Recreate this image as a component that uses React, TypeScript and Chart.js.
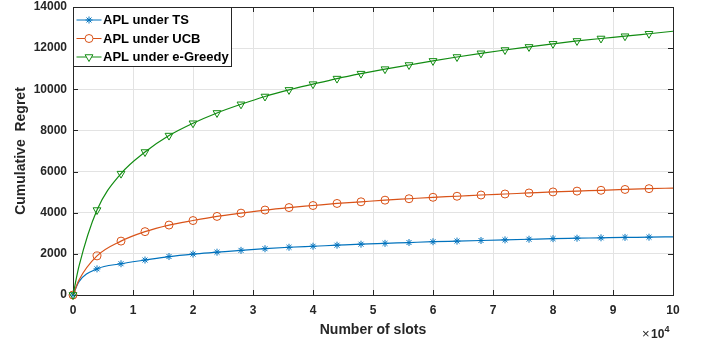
import React, { useEffect, useRef } from "react";
import { Chart, registerables } from "chart.js";

Chart.register(...registerables);

// x values in units of 10^4 slots
const xValues = [0, 0.1, 0.4, 0.8, 1.2, 1.6, 2.0, 2.4, 2.8, 3.2, 3.6, 4.0, 4.4, 4.8, 5.2, 5.6, 6.0, 6.4, 6.8, 7.2, 7.6, 8.0, 8.4, 8.8, 9.2, 9.6, 10];
const tsRegret = [0, 650, 1270, 1520, 1700, 1870, 1990, 2080, 2170, 2250, 2320, 2370, 2420, 2470, 2510, 2550, 2590, 2620, 2650, 2680, 2710, 2740, 2760, 2780, 2800, 2810, 2830];
const ucbRegret = [0, 730, 1900, 2620, 3080, 3400, 3620, 3820, 3980, 4130, 4250, 4350, 4450, 4530, 4610, 4680, 4750, 4800, 4860, 4910, 4960, 5010, 5050, 5090, 5130, 5170, 5200];
const greedyRegret = [0, 1400, 4130, 5900, 6950, 7750, 8350, 8850, 9270, 9650, 9970, 10250, 10520, 10760, 10980, 11180, 11380, 11570, 11750, 11910, 12060, 12210, 12350, 12470, 12580, 12700, 12820];
const seriesNames = ["APL under TS", "APL under UCB", "APL under e-Greedy"];
const xTicks = [0, 1, 2, 3, 4, 5, 6, 7, 8, 9, 10];
const yTicks = [0, 2000, 4000, 6000, 8000, 10000, 12000, 14000];

const BLUE = "#0072BD";
const ORANGE = "#D95319";
const GREEN = "#128c12";
const FONT = "'Liberation Sans', Arial, Helvetica, sans-serif";

const noMarkerX = new Set([0.1, 10]);

function toPoints(ys: number[]) {
  return xValues.map((x, i) => ({ x, y: ys[i] }));
}

function drawMarker(ctx: CanvasRenderingContext2D, style: string, x: number, y: number, color: string) {
  ctx.save();
  ctx.strokeStyle = color;
  ctx.lineWidth = 1;
  ctx.beginPath();
  if (style === "circle") {
    ctx.arc(x, y, 4, 0, Math.PI * 2);
    ctx.fillStyle = "#ffffff";
    ctx.fill();
  } else if (style === "triangle") {
    const r = 4.5;
    ctx.moveTo(x, y + r);
    ctx.lineTo(x - r * 0.866, y - r * 0.5);
    ctx.lineTo(x + r * 0.866, y - r * 0.5);
    ctx.closePath();
    ctx.fillStyle = "#ffffff";
    ctx.fill();
  } else {
    const r = 3.5;
    for (let k = 0; k < 4; k++) {
      const ang = (k * Math.PI) / 4;
      ctx.moveTo(x + r * Math.cos(ang), y + r * Math.sin(ang));
      ctx.lineTo(x - r * Math.cos(ang), y - r * Math.sin(ang));
    }
  }
  ctx.stroke();
  ctx.restore();
}

const boxPlugin = {
  id: "matlabBox",
  beforeDatasetsDraw(chart: any) {
    const { ctx, chartArea: a, scales } = chart;
    ctx.save();
    ctx.strokeStyle = "#262626";
    ctx.lineWidth = 1;
    const tl = 5;
    ctx.beginPath();
    xTicks.forEach((t) => {
      const px = Math.round(scales.x.getPixelForValue(t)) + 0.5;
      ctx.moveTo(px, a.bottom);
      ctx.lineTo(px, a.bottom - tl);
      ctx.moveTo(px, a.top);
      ctx.lineTo(px, a.top + tl);
    });
    yTicks.forEach((t) => {
      const py = Math.round(scales.y.getPixelForValue(t)) + 0.5;
      ctx.moveTo(a.left, py);
      ctx.lineTo(a.left + tl, py);
      ctx.moveTo(a.right, py);
      ctx.lineTo(a.right - tl, py);
    });
    ctx.stroke();
    ctx.strokeRect(Math.round(a.left) + 0.5, Math.round(a.top) + 0.5, Math.round(a.right - a.left), Math.round(a.bottom - a.top));
    ctx.restore();
  },
  afterDraw(chart: any) {
    const { ctx, chartArea: a } = chart;
    ctx.save();
    // exponent label
    ctx.fillStyle = "#262626";
    ctx.textBaseline = "alphabetic";
    ctx.textAlign = "left";
    ctx.font = `13px ${FONT}`;
    ctx.fillText("\u00d7", a.right - 31, a.bottom + 43);
    ctx.font = `bold 12px ${FONT}`;
    ctx.fillText("10", a.right - 22, a.bottom + 43);
    ctx.font = `bold 9px ${FONT}`;
    ctx.fillText("4", a.right - 8.5, a.bottom + 37);

    // legend
    const lx = Math.round(a.left) + 0.5;
    const ly = Math.round(a.top) + 0.5;
    const lw = 158;
    const lh = 59;
    ctx.fillStyle = "#ffffff";
    ctx.fillRect(lx, ly, lw, lh);
    ctx.strokeStyle = "#262626";
    ctx.lineWidth = 1;
    ctx.strokeRect(lx, ly, lw, lh);
    const colors = [BLUE, ORANGE, GREEN];
    const styles = ["star", "circle", "triangle"];
    seriesNames.forEach((name, i) => {
      const y = ly + 12.5 + i * 18.5;
      ctx.strokeStyle = colors[i];
      ctx.lineWidth = 1;
      ctx.beginPath();
      ctx.moveTo(lx + 3, y);
      ctx.lineTo(lx + 28, y);
      ctx.stroke();
      drawMarker(ctx, styles[i], lx + 15.5, y, colors[i]);
      ctx.fillStyle = "#000000";
      ctx.font = `bold 13px ${FONT}`;
      ctx.textAlign = "left";
      ctx.textBaseline = "middle";
      ctx.fillText(name, lx + 29.5, y + 0.5);
    });
    ctx.restore();
  },
};

function markerRadius(r: number) {
  return (c: any) => (noMarkerX.has(xValues[c.dataIndex]) ? 0 : r);
}

export default function App() {
  const ref = useRef<HTMLCanvasElement | null>(null);
  useEffect(() => {
    if (!ref.current) return;
    const ctx2 = ref.current.getContext("2d")!;
    const mk = (label: string, ys: number[], color: string, style: string, r: number, rot: number, bg: string) => ({
      label,
      data: toPoints(ys),
      borderColor: color,
      backgroundColor: bg,
      pointBorderColor: color,
      pointBackgroundColor: bg,
      borderWidth: 1.2,
      pointStyle: style,
      pointRadius: markerRadius(r),
      pointRotation: rot,
      pointBorderWidth: 1,
      cubicInterpolationMode: "monotone" as const,
      clip: false as any,
    });
    const chart = new Chart(ctx2, {
      type: "line",
      data: {
        datasets: [
          mk(seriesNames[2], greedyRegret, GREEN, "triangle", 4.5, 180, "rgba(255,255,255,0)"),
          mk(seriesNames[1], ucbRegret, ORANGE, "circle", 4, 0, "rgba(255,255,255,0)"),
          mk(seriesNames[0], tsRegret, BLUE, "star", 3.5, 0, "rgba(0,114,189,0.4)"),
        ] as any,
      },
      plugins: [boxPlugin],
      options: {
        animation: false,
        responsive: false,
        devicePixelRatio: 1,
        layout: { padding: { top: 7, right: 39, left: 0, bottom: 0 } },
        plugins: { legend: { display: false }, tooltip: { enabled: false } },
        scales: {
          x: {
            type: "linear",
            min: 0,
            max: 10,
            afterBuildTicks: (s: any) => {
              s.ticks = xTicks.map((v) => ({ value: v }));
            },
            afterFit: (s: any) => {
              s.height = 46;
              s.paddingLeft = 0;
              s.paddingRight = 0;
            },
            grid: { color: "#e3e3e3", drawTicks: false, lineWidth: 1 },
            border: { display: false },
            ticks: {
              color: "#262626",
              font: { family: FONT, size: 12, weight: "bold" },
              padding: 8,
              maxRotation: 0,
            },
            title: {
              display: true,
              text: "Number of slots",
              color: "#262626",
              font: { family: FONT, size: 14, weight: "bold" },
              padding: { top: 0, bottom: 2 },
            },
          },
          y: {
            type: "linear",
            min: 0,
            max: 14000,
            afterBuildTicks: (s: any) => {
              s.ticks = yTicks.map((v) => ({ value: v }));
            },
            afterFit: (s: any) => {
              s.width = 73;
              s.paddingTop = 0;
              s.paddingBottom = 0;
            },
            grid: { color: "#e3e3e3", drawTicks: false, lineWidth: 1 },
            border: { display: false },
            ticks: {
              color: "#262626",
              font: { family: FONT, size: 12, weight: "bold" },
              padding: 6,
              callback: (v: any) => String(v),
            },
            title: {
              display: true,
              text: "Cumulative  Regret",
              color: "#262626",
              font: { family: FONT, size: 14, weight: "bold" },
              padding: { top: 13, bottom: 4 },
            },
          },
        },
      },
    });
    return () => chart.destroy();
  }, []);
  return (
    <div style={{ position: "absolute", left: 0, top: 0, width: 712, height: 341, background: "#ffffff" }}>
      <canvas ref={ref} width={712} height={341} style={{ width: 712, height: 341, display: "block" }} />
    </div>
  );
}
